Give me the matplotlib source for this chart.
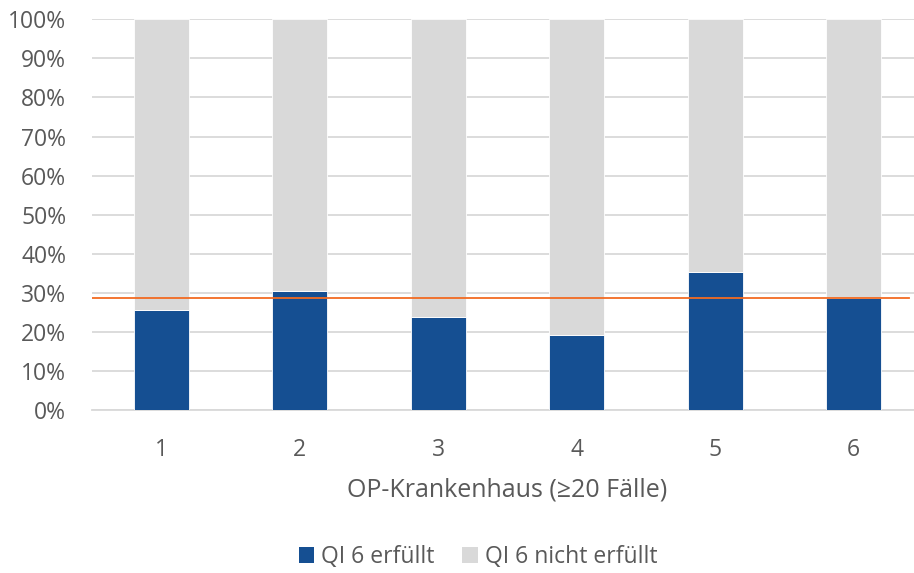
import matplotlib
matplotlib.use("Agg")
import matplotlib.pyplot as plt
from matplotlib.patches import Patch
from matplotlib.ticker import PercentFormatter

# data
hospitals = ["1", "2", "3", "4", "5", "6"]
fulfilled = [25.5, 30.5, 23.7, 19.2, 35.3, 28.6]
not_fulfilled = [100 - v for v in fulfilled]
reference_line = 28.6

BLUE = "#154F92"
GREY = "#D9D9D9"
ORANGE = "#F26B22"
TEXT = "#595959"

plt.rcParams["font.family"] = ["Open Sans", "DejaVu Sans"]

fig = plt.figure(figsize=(9.14, 5.73), dpi=100)
W, H = 914, 573
ax = fig.add_axes([92 / W, 1 - 410 / H, 831 / W, (410 - 19.3) / H])

x = range(len(hospitals))
ax.bar(x, fulfilled, width=0.4, color=BLUE, edgecolor="#FFFFFF", linewidth=0.6,
       zorder=3)
ax.bar(x, not_fulfilled, width=0.4, bottom=fulfilled, color=GREY,
       edgecolor="#FFFFFF", linewidth=0.6, zorder=3)
ax.axhline(reference_line, xmin=0, xmax=(909 - 92) / 831, color=ORANGE,
           linewidth=1.3, zorder=4)

ax.set_xlim(-0.5, len(hospitals) - 0.5)
ax.set_ylim(0, 100)
ax.set_yticks(range(0, 101, 10))
ax.yaxis.set_major_formatter(PercentFormatter(decimals=0))
ax.set_xticks(list(x))
ax.set_xticklabels(hospitals)
ax.grid(axis="y", color=GREY, linewidth=1.3, zorder=0)
ax.tick_params(length=0, labelsize=16.5, labelcolor=TEXT)
ax.tick_params(axis="y", pad=18.5)
ax.tick_params(axis="x", pad=20)
for side in ("top", "right", "left"):
    ax.spines[side].set_visible(False)
ax.spines["bottom"].set_color(GREY)
ax.spines["bottom"].set_linewidth(1.3)

ax.set_xlabel("OP-Krankenhaus (≥20 Fälle)", fontsize=18, color=TEXT,
              labelpad=11)

handles = [Patch(facecolor=BLUE, label="QI 6 erfüllt"),
           Patch(facecolor=GREY, label="QI 6 nicht erfüllt")]
fig.legend(handles=handles, loc="center", ncol=2, frameon=False,
           bbox_to_anchor=(478 / W, 1 - 557 / H), fontsize=16.5,
           labelcolor=TEXT, handlelength=0.68, handleheight=0.68,
           handletextpad=0.3, columnspacing=1.2)

fig.savefig("out.png", dpi=100)
